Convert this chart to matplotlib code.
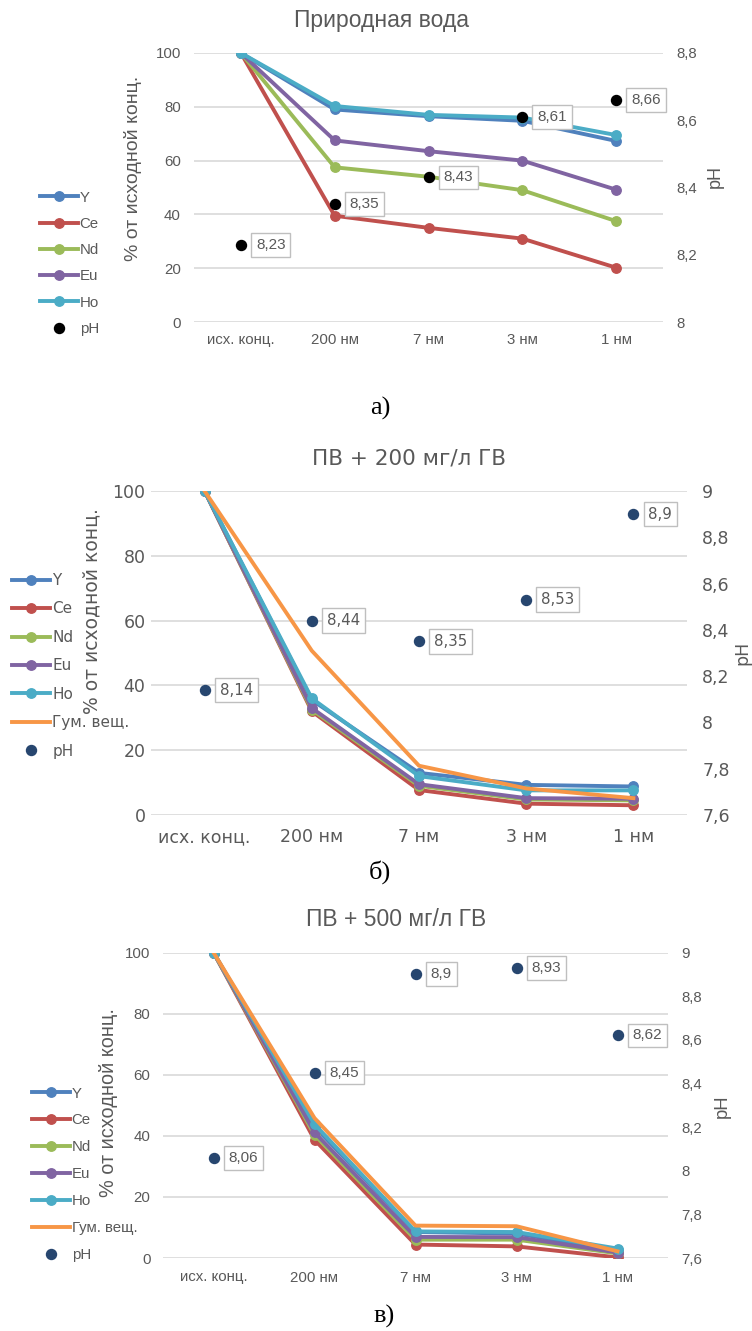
import matplotlib
matplotlib.use("Agg")
import matplotlib.pyplot as plt
from matplotlib.ticker import FuncFormatter

plt.rcParams['font.family'] = ['Liberation Sans', 'DejaVu Sans']

W, H = 752, 1331

categories = ["исх. конц.", "200 нм", "7 нм", "3 нм", "1 нм"]
humic_label = "Гум. вещ."

# Panel a: natural water
a_Y = [100, 79.0, 76.5, 74.8, 67.3]
a_Ce = [100, 39.5, 35.0, 31.0, 20.2]
a_Nd = [100, 57.5, 54.0, 49.0, 37.5]
a_Eu = [100, 67.5, 63.5, 60.0, 49.2]
a_Ho = [100, 80.3, 77.0, 76.0, 69.5]
a_pH = [8.23, 8.35, 8.43, 8.61, 8.66]

# Panel b: +200 mg/l humic
b_Y = [100, 35.5, 13.0, 9.3, 8.8]
b_Ce = [100, 32.0, 7.7, 3.5, 3.0]
b_Nd = [100, 32.5, 9.0, 4.8, 4.5]
b_Eu = [100, 33.0, 9.5, 5.2, 5.0]
b_Ho = [100, 36.0, 12.0, 7.6, 7.6]
b_Hum = [100, 50.7, 15.2, 8.2, 5.2]
b_pH = [8.14, 8.44, 8.35, 8.53, 8.9]

# Panel c: +500 mg/l humic
c_Y = [100, 43.0, 8.5, 8.0, 2.5]
c_Ce = [100, 38.7, 4.4, 3.8, 0.2]
c_Nd = [100, 40.3, 6.0, 6.0, 1.5]
c_Eu = [100, 41.1, 6.9, 6.8, 1.8]
c_Ho = [100, 43.8, 8.7, 8.5, 3.1]
c_Hum = [100, 45.8, 10.6, 10.4, 2.2]
c_pH = [8.06, 8.45, 8.9, 8.93, 8.62]

titles = ["Природная вода", "ПВ + 200 мг/л ГВ", "ПВ + 500 мг/л ГВ"]
captions = ["а)", "б)", "в)"]
ph_ticks_a = [8.0, 8.2, 8.4, 8.6, 8.8]
ph_ticks_bc = [7.6, 7.8, 8.0, 8.2, 8.4, 8.6, 8.8, 9.0]
pct_ticks = [0, 20, 40, 60, 80, 100]

colors = {"Y": "#4F81BD", "Ce": "#C0504D", "Nd": "#9BBB59", "Eu": "#8064A2",
          "Ho": "#4BACC6", "hum": "#F79646"}
TXT = "#595959"
GRID = "#D9D9D9"

fig = plt.figure(figsize=(W / 100, H / 100), dpi=100)


def fx(x):
    return x / W


def fy(y):
    return 1 - y / H


def comma(v, pos=None):
    s = ("%.2f" % v).rstrip("0").rstrip(".")
    return s.replace(".", ",")


def panel(series, hum, ph, ph_color, ph_ticks, box, title, caption, L):
    fam = L['family']
    left, right, top, bottom = box
    ax = fig.add_axes([fx(left), fy(bottom), fx(right - left), (bottom - top) / H])
    x = list(range(len(categories)))
    handles, labels = [], []
    for name, vals in series:
        ln, = ax.plot(x, vals, color=colors[name], lw=2.8, marker='o', ms=6.8,
                      zorder=3)
        handles.append(ln)
        labels.append(name)
    if hum is not None:
        ln, = ax.plot(x, hum, color=colors["hum"], lw=2.8, zorder=4)
        handles.append(ln)
        labels.append(humic_label)
    ax.set_xlim(-0.5, len(categories) - 0.5)
    ax.set_ylim(0, 100)
    ax.set_yticks(pct_ticks)
    ax.set_xticks(x)
    ax.set_xticklabels(categories, family=fam)
    for t in ax.get_yticklabels():
        t.set_family(fam)
    ax.grid(axis='y', color=GRID, lw=1.2)
    ax.set_axisbelow(True)
    for s in ax.spines.values():
        s.set_visible(False)
    ax.tick_params(axis='both', length=0, colors=TXT, labelsize=L['tick'])
    ax.tick_params(axis='y', pad=L['lpad'])
    ax.tick_params(axis='x', pad=L['xpad'])

    ax2 = ax.twinx()
    ax2.set_ylim(ph_ticks[0], ph_ticks[-1])
    ax2.set_yticks(ph_ticks)
    ax2.yaxis.set_major_formatter(FuncFormatter(comma))
    for s in ax2.spines.values():
        s.set_visible(False)
    ax2.tick_params(axis='y', length=0, colors=TXT, labelsize=L['tick'],
                    pad=L['rpad'])
    for t in ax2.get_yticklabels():
        t.set_family(fam)
    pts, = ax2.plot(x, ph, linestyle='none', marker='o', ms=7.2, color=ph_color,
                    zorder=5)
    for xi, v in zip(x, ph):
        ax2.annotate(comma(v), (xi, v), xytext=(15, 0), textcoords='offset pixels',
                     ha='left', va='center', fontsize=L['box'], color=TXT,
                     family=fam, zorder=6,
                     bbox=dict(boxstyle='square,pad=0.32', fc='white',
                               ec='#BFBFBF', lw=1))
    handles.append(pts)
    labels.append("pH")

    fig.text(fx(L['title_xy'][0]), fy(L['title_xy'][1]), title, ha='center',
             va='center', fontsize=L['title'], color=TXT, family=fam)
    fig.text(fx(L['ylab'][0]), fy(L['ylab'][1]), "% от исходной конц.",
             rotation=90, ha='center', va='center', fontsize=L['ylabsize'],
             color=TXT, family=fam)
    fig.text(fx(L['phlab'][0]), fy(L['phlab'][1]), "pH", rotation=90,
             ha='center', va='center', fontsize=L['ylabsize'] - 1, color=TXT,
             family=fam)
    fig.text(fx(L['cap'][0]), fy(L['cap'][1]), caption, ha='center',
             va='center', fontsize=19, color='black',
             family=['Liberation Serif', 'DejaVu Serif'])
    leg = ax.legend(handles, labels, loc='upper left',
                    bbox_to_anchor=(fx(L['leg'][0]), fy(L['leg'][1])),
                    bbox_transform=fig.transFigure, frameon=False,
                    prop={'family': fam, 'size': L['legsize']},
                    handlelength=2.5, handletextpad=0.15,
                    labelspacing=L['ls'], borderpad=0, borderaxespad=0)
    for t in leg.get_texts():
        t.set_color(TXT)
    return ax


LIB = ['Liberation Sans', 'DejaVu Sans']
DJV = ['DejaVu Sans']

panel([("Y", a_Y), ("Ce", a_Ce), ("Nd", a_Nd), ("Eu", a_Eu), ("Ho", a_Ho)],
      None, a_pH, "black", ph_ticks_a,
      (194, 663, 53, 322), titles[0], captions[0],
      dict(family=LIB, tick=10.8, lpad=9.5, rpad=9.5, xpad=8, box=11,
           title=16.5, title_xy=(381, 20), ylabsize=14, ylab=(133, 168),
           phlab=(715, 177), cap=(380, 408), leg=(40, 190.5), legsize=10.8,
           ls=0.82))

panel([("Y", b_Y), ("Ce", b_Ce), ("Nd", b_Nd), ("Eu", b_Eu), ("Ho", b_Ho)],
      b_Hum, b_pH, "#27466F", ph_ticks_bc,
      (151, 687, 491, 815), titles[1], captions[1],
      dict(family=DJV, tick=12.5, lpad=4, rpad=11, xpad=9.5, box=10.8,
           title=15.5, title_xy=(409, 458), ylabsize=13.5, ylab=(92, 611),
           phlab=(742, 653), cap=(380, 872), leg=(12, 573), legsize=11,
           ls=0.88))

panel([("Y", c_Y), ("Ce", c_Ce), ("Nd", c_Nd), ("Eu", c_Eu), ("Ho", c_Ho)],
      c_Hum, c_pH, "#27466F", ph_ticks_bc,
      (163, 668, 952.5, 1258), titles[2], captions[2],
      dict(family=LIB, tick=10.8, lpad=9, rpad=9.5, xpad=9, box=11,
           title=16.5, title_xy=(396, 920), ylabsize=14.3, ylab=(108, 1103),
           phlab=(722, 1106), cap=(384, 1316), leg=(32, 1086.5), legsize=10.8,
           ls=0.86))

fig.savefig("out.png", dpi=100)
